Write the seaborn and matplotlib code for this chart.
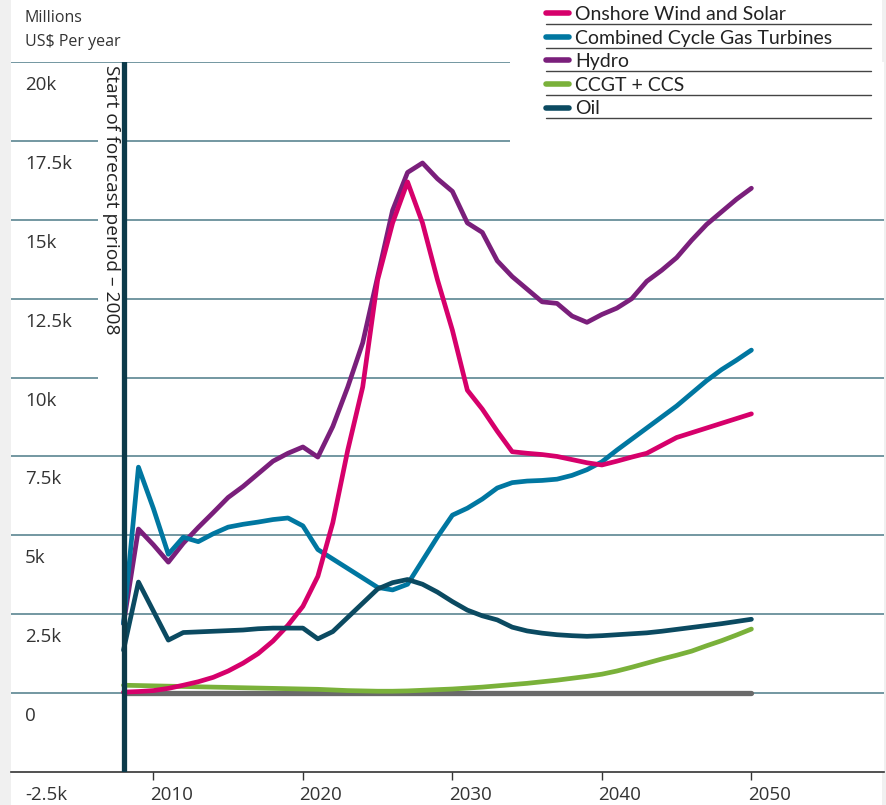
import matplotlib
matplotlib.use("Agg")
import numpy as np
import pandas as pd
import matplotlib.pyplot as plt
import seaborn as sns
from matplotlib.lines import Line2D
from matplotlib.patches import Rectangle
from matplotlib.transforms import ScaledTranslation

# data (thousands of millions US$ per year)
years = list(range(2008, 2051))

onshore = [0.03, 0.05, 0.08, 0.15, 0.25, 0.36, 0.5, 0.7, 0.95, 1.25, 1.65, 2.15, 2.75,
           3.7, 5.4, 7.7, 9.7, 13.1, 14.9, 16.2, 14.9, 13.1, 11.5,
           9.6, 9.0, 8.3, 7.65, 7.6, 7.56, 7.5, 7.4, 7.3, 7.23,
           7.35, 7.48, 7.6, 7.85, 8.1, 8.25, 8.4, 8.55, 8.7, 8.85]
ccgt = [2.2, 7.16, 5.85, 4.4, 4.94, 4.8, 5.05, 5.26, 5.35, 5.42, 5.5, 5.55, 5.3,
        4.55, 4.25, 3.95, 3.65, 3.35, 3.27, 3.45, 4.2, 4.95, 5.64,
        5.86, 6.15, 6.5, 6.67, 6.72, 6.74, 6.78, 6.9, 7.08, 7.33,
        7.7, 8.05, 8.4, 8.75, 9.1, 9.5, 9.9, 10.25, 10.55, 10.87]
hydro = [2.2, 5.2, 4.7, 4.15, 4.75, 5.25, 5.72, 6.2, 6.55, 6.95, 7.35, 7.6, 7.8,
         7.48, 8.45, 9.7, 11.1, 13.2, 15.3, 16.5, 16.8, 16.3, 15.9,
         14.9, 14.6, 13.7, 13.2, 12.8, 12.4, 12.35, 11.95, 11.75, 12.0,
         12.2, 12.5, 13.05, 13.4, 13.8, 14.35, 14.85, 15.25, 15.65, 16.0]
ccs = [0.25, 0.24, 0.23, 0.22, 0.21, 0.2, 0.19, 0.18, 0.17, 0.16, 0.15, 0.14, 0.13,
       0.12, 0.1, 0.08, 0.07, 0.06, 0.06, 0.07, 0.09, 0.11, 0.13,
       0.16, 0.19, 0.23, 0.27, 0.31, 0.36, 0.41, 0.47, 0.53, 0.6,
       0.7, 0.82, 0.95, 1.08, 1.2, 1.33, 1.5, 1.66, 1.84, 2.03]
oil = [1.36, 3.52, 2.6, 1.68, 1.92, 1.94, 1.96, 1.98, 2.0, 2.04, 2.06, 2.06, 2.06,
       1.72, 1.95, 2.4, 2.85, 3.3, 3.5, 3.6, 3.45, 3.2, 2.9,
       2.63, 2.45, 2.32, 2.09, 1.97, 1.9, 1.85, 1.82, 1.8, 1.82,
       1.85, 1.88, 1.91, 1.96, 2.02, 2.08, 2.14, 2.2, 2.27, 2.34]
baseline = [0.0] * len(years)

series_names = ["Onshore Wind and Solar", "Combined Cycle Gas Turbines", "Hydro",
                "CCGT + CCS", "Oil"]
series_values = [onshore, ccgt, hydro, ccs, oil]
series_colors = ["#d6006b", "#0077a1", "#7a1f7b", "#7ab13a", "#0b4a61"]
draw_order = ["CCGT + CCS", "Hydro", "Combined Cycle Gas Turbines",
              "Onshore Wind and Solar", "Oil"]

y_ticks = [-2500, 0, 2500, 5000, 7500, 10000, 12500, 15000, 17500, 20000]
y_tick_labels = ["-2.5k", "0", "2.5k", "5k", "7.5k", "10k", "12.5k", "15k", "17.5k", "20k"]
x_ticks = [2010, 2020, 2030, 2040, 2050]

frames = []
for name, vals in zip(series_names, series_values):
    frames.append(pd.DataFrame({"year": years, "value": np.array(vals) * 1000, "tech": name}))
df = pd.concat(frames, ignore_index=True)
palette = dict(zip(series_names, series_colors))

sns.set_theme(style="white")
plt.rcParams["font.family"] = ["Open Sans", "DejaVu Sans"]

W, H = 887, 805
fig = plt.figure(figsize=(W / 100, H / 100), dpi=100, facecolor="#f0f0f0")
fig.add_artist(Rectangle((11 / W, 0), 871 / W, 1, transform=fig.transFigure,
                         facecolor="white", edgecolor="none", zorder=0))
ax = fig.add_axes([11 / W, 33 / H, 873 / W, 710 / H])
ax.set_facecolor("white")


def px_year(px):
    # horizontal pixel -> year, for segment ends of the layout only
    return 2008 + (px - 123.5) / 14.95


x_left, x_right = px_year(11), px_year(884)
ax.set_xlim(x_left, x_right)
ax.set_ylim(-2500, 20000)

# gridlines, broken where the rotated label and the legend sit
grid_color = "#4d7a87"
gap_l, gap_r, legend_edge = px_year(98), px_year(127), px_year(510)
for v in y_ticks[1:]:
    if v == 20000:
        segs = [(x_left, legend_edge)]
    elif v == 17500:
        segs = [(x_left, gap_l), (gap_r, legend_edge)]
    elif v >= 10000:
        segs = [(x_left, gap_l), (gap_r, x_right)]
    else:
        segs = [(x_left, x_right)]
    for a, b in segs:
        ax.hlines(v, a, b, color=grid_color, lw=1.1, zorder=1)

# zero baseline series (grey)
sns.lineplot(x=years, y=baseline, ax=ax, color="#6a6a6a", lw=3.8, zorder=2)

for name in draw_order:
    sub = df[df["tech"] == name]
    sns.lineplot(data=sub, x="year", y="value", ax=ax, color=palette[name],
                 lw=3.4, zorder=3)

# start of forecast marker
ax.axvline(2008, color="#0c3a4a", lw=3.8, zorder=5)
ax.text(px_year(111), 19900, "Start of forecast period \u2013 2008", rotation=270,
        ha="center", va="top", fontsize=13.8, color="#222222", zorder=6)

# axes styling
for side in ["top", "right", "left"]:
    ax.spines[side].set_visible(False)
ax.spines["bottom"].set_color("#333333")
ax.spines["bottom"].set_linewidth(1.2)
ax.set_xlabel("")
ax.set_ylabel("")

ax.set_xticks(x_ticks)
ax.set_xticklabels([str(x) for x in x_ticks])
ax.tick_params(axis="x", bottom=True, length=6, width=1, color="#333333", pad=4,
               labelsize=13.5, labelcolor="#333333")
for lab in ax.get_xticklabels():
    lab.set_transform(lab.get_transform() + ScaledTranslation(0.18, 0, fig.dpi_scale_trans))

ax.set_yticks(y_ticks)
ax.set_yticklabels(y_tick_labels)
ax.tick_params(axis="y", left=False, length=0, pad=0, labelsize=13.5, labelcolor="#333333")
for lab in ax.get_yticklabels():
    lab.set_horizontalalignment("left")
    lab.set_transform(lab.get_transform() + ScaledTranslation(0.14, -0.21, fig.dpi_scale_trans))

fig.text(25 / W, 1 - 10 / H, "Millions\nUS\\$ Per year", ha="left", va="top",
         fontsize=11.5, color="#333333", linespacing=1.65)

# legend with rule lines under each entry
handles = [Line2D([], [], color=c, lw=4) for c in series_colors]
leg = ax.legend(handles, series_names, loc="upper left",
                bbox_to_anchor=(546 / W, 1 - 6 / H), bbox_transform=fig.transFigure,
                frameon=False, handlelength=1.2, handletextpad=0.3, labelspacing=0.34,
                borderpad=0, borderaxespad=0,
                prop={"family": ["Lato", "DejaVu Sans"], "size": 14})
for t in leg.get_texts():
    t.set_color("#222222")

fig.canvas.draw()
for t in leg.get_texts():
    bb = t.get_window_extent()
    yc = (bb.y0 + bb.y1) / 2 - 9.5
    fig.add_artist(Line2D([546 / W, 871 / W], [yc / H, yc / H], transform=fig.transFigure,
                          color="#444444", lw=1))

fig.savefig("out.png", dpi=100, facecolor=fig.get_facecolor())
